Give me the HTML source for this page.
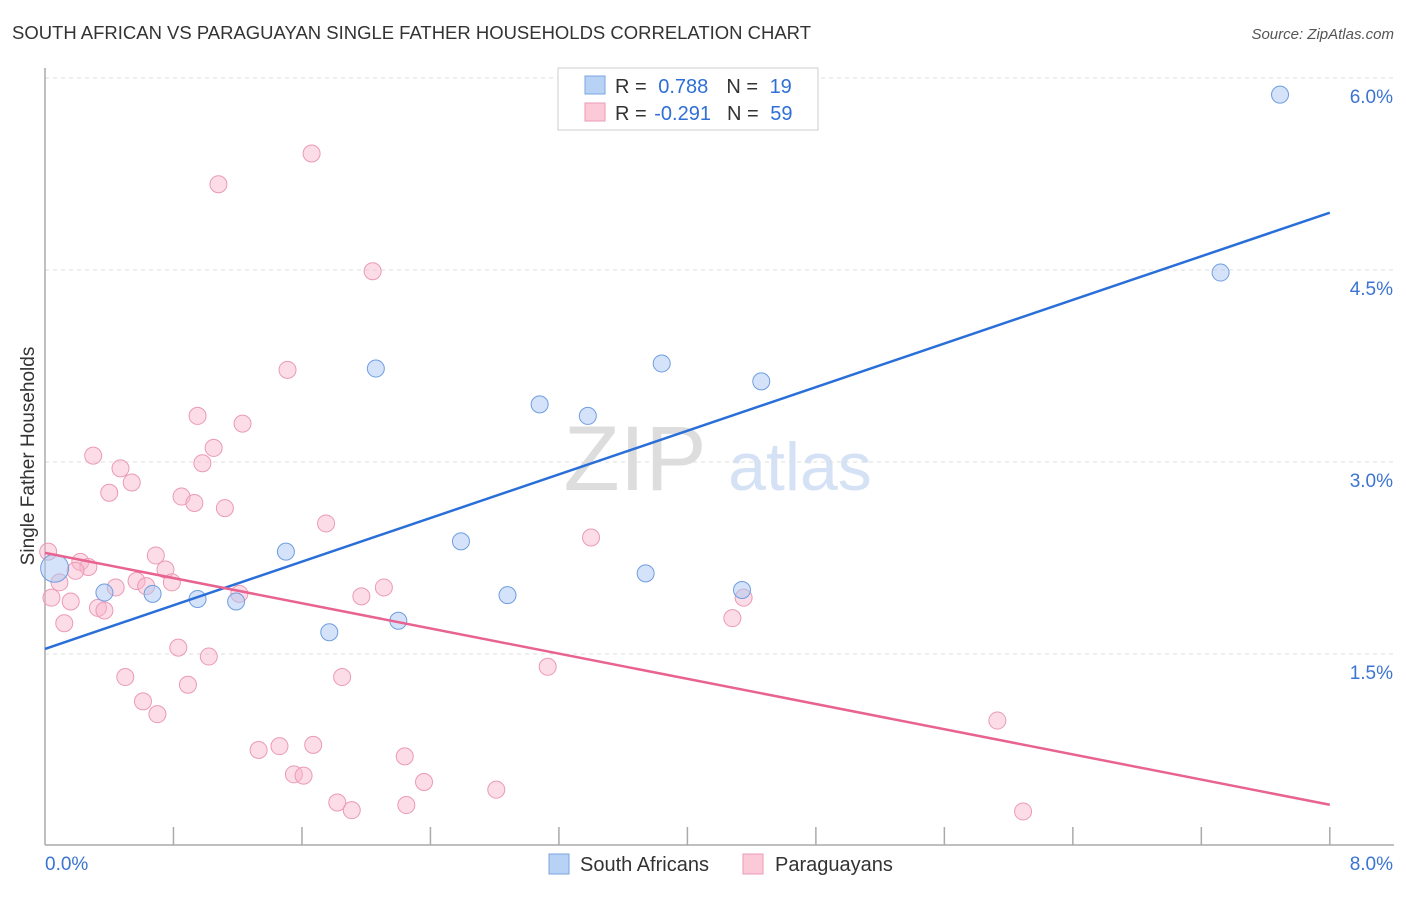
<!DOCTYPE html>
<html><head><meta charset="utf-8"><style>
body{margin:0;background:#fff;font-family:"Liberation Sans",sans-serif}
svg text{font-family:"Liberation Sans",sans-serif}
</style></head><body>
<svg id="c" width="1406" height="892">
<text x="12" y="39" font-size="18" fill="#333" textLength="799" lengthAdjust="spacingAndGlyphs">SOUTH AFRICAN VS PARAGUAYAN SINGLE FATHER HOUSEHOLDS CORRELATION CHART</text>
<text x="1394" y="39" font-size="15" fill="#555" font-style="italic" text-anchor="end">Source: ZipAtlas.com</text>
<text x="34" y="456" font-size="19" fill="#333" text-anchor="middle" transform="rotate(-90 34 456)">Single Father Households</text>
<g><text x="635" y="490" font-size="92" fill="#ddd" font-family="Liberation Serif" text-anchor="middle">ZIP</text><text x="800" y="490" font-size="68" fill="#d5e2f5" text-anchor="middle">atlas</text></g>
<g id="grid"></g><g id="pts"></g><g id="lines"></g>
<g>
<rect x="558" y="68" width="260" height="62" fill="#fff" stroke="#ccc"/>
<rect x="585" y="76" width="20" height="18" fill="#b8d2f5" stroke="#7aa6e0"/>
<rect x="585" y="103" width="20" height="18" fill="#fbc9d8" stroke="#ec9ab3"/>
<text x="615" y="93" font-size="20" fill="#333">R = <tspan fill="#2f6fd6" dx="6">0.788</tspan><tspan dx="18">N = </tspan><tspan fill="#2f6fd6" dx="6">19</tspan></text>
<text x="615" y="120" font-size="20" fill="#333">R = <tspan fill="#2f6fd6" dx="2">-0.291</tspan><tspan dx="16">N = </tspan><tspan fill="#2f6fd6" dx="6">59</tspan></text>
</g>
<g>
<rect x="549" y="854" width="20" height="20" fill="#b8d2f5" stroke="#7aa6e0"/>
<text x="580" y="871" font-size="20" fill="#333">South Africans</text>
<rect x="743" y="854" width="20" height="20" fill="#fbc9d8" stroke="#ec9ab3"/>
<text x="775" y="871" font-size="20" fill="#333">Paraguayans</text>
</g>
</svg>
<script>
const yTicks=[1.5,3.0,4.5,6.0];
const yTickLabels=["1.5%","3.0%","4.5%","6.0%"];
const xTickLabels=["0.0%","8.0%"];
const blueX=[7.69,7.32,2.06,3.84,4.46,3.08,3.38,2.59,1.50,3.74,4.34,2.88,0.67,0.37,0.95,1.19,1.77,2.20,0.06];
const blueY=[5.87,4.48,3.73,3.77,3.63,3.45,3.36,2.38,2.30,2.13,2.00,1.96,1.97,1.98,1.93,1.91,1.67,1.76,2.17];
const pinkX=[1.66,1.08,2.04,1.51,0.95,1.23,1.05,0.30,0.98,0.47,0.54,0.40,0.85,0.93,1.12,1.75,3.40,0.69,0.22,0.02,0.27,0.19,0.75,0.57,0.44,0.79,0.63,0.09,0.04,0.16,0.33,0.37,1.21,2.11,1.97,4.35,4.28,0.12,0.83,1.02,3.13,0.50,1.85,0.89,0.61,0.70,5.93,1.33,1.46,1.67,2.24,1.55,1.61,2.36,2.81,1.82,1.91,2.25,6.09];
const pinkY=[5.41,5.17,4.49,3.72,3.36,3.30,3.11,3.05,2.99,2.95,2.84,2.76,2.73,2.68,2.64,2.52,2.41,2.27,2.22,2.30,2.18,2.15,2.16,2.07,2.02,2.06,2.03,2.06,1.94,1.91,1.86,1.84,1.97,2.02,1.95,1.94,1.78,1.74,1.55,1.48,1.40,1.32,1.32,1.26,1.13,1.03,0.98,0.75,0.78,0.79,0.70,0.56,0.55,0.50,0.44,0.34,0.28,0.32,0.27];
const blueFit=[1.54,0.426];
const pinkFit=[2.29,-0.246];
const ns="http://www.w3.org/2000/svg";
const X=v=>45+v*160.6, Y=v=>846-v*128;
function mk(t,a,p){const e=document.createElementNS(ns,t);for(const k in a)e.setAttribute(k,a[k]);p.appendChild(e);return e;}
const g=document.getElementById('grid');
yTicks.forEach((t,i)=>{
 const l=mk('line',{x1:45,x2:1394,y1:Y(t),y2:Y(t),stroke:'#ddd','stroke-dasharray':'4,4'},g);
 
 
 const tx=mk('text',{x:1393,y:Y(t)+25,'font-size':19,fill:'#3b74d1','text-anchor':'end'},g);
 tx.textContent=yTickLabels[i];
 
 
});
mk('line',{x1:45,x2:45,y1:68,y2:845,stroke:'#aaa','stroke-width':1.5},g);
mk('line',{x1:45,x2:1394,y1:845,y2:845,stroke:'#aaa','stroke-width':1.5},g);
for(let i=1;i<=10;i++){const t=mk('line',{x1:X(i*0.8),x2:X(i*0.8),y1:827,y2:845,stroke:'#aaa','stroke-width':1.5},g);
 
 }
const xl0=mk('text',{x:45,y:870,'font-size':19,fill:'#3b74d1'},g);xl0.textContent=xTickLabels[0];


const xl1=mk('text',{x:1393,y:870,'font-size':19,fill:'#3b74d1','text-anchor':'end'},g);xl1.textContent=xTickLabels[1];


const p=document.getElementById('pts');
pinkX.forEach((x,i)=>{const c=mk('circle',{cx:X(x),cy:Y(pinkY[i]),r:8.5,fill:'rgba(248,180,202,0.45)',stroke:'#eb9ab4','stroke-width':1},p);
 
 });
blueX.forEach((x,i)=>{const c=mk('circle',{cx:X(x),cy:Y(blueY[i]),r:i==18?14:8.5,fill:'rgba(170,200,243,0.5)',stroke:'#6f9de0','stroke-width':1},p);
 
 });
const L=document.getElementById('lines');
const bl=mk('line',{x1:X(0),y1:Y(blueFit[0]),x2:X(8),y2:Y(blueFit[0]+8*blueFit[1]),stroke:'#2a6fd8','stroke-width':2.5},L);


const pl=mk('line',{x1:X(0),y1:Y(pinkFit[0]),x2:X(8),y2:Y(pinkFit[0]+8*pinkFit[1]),stroke:'#e8638f','stroke-width':2.5},L);


</script>
</body></html>
